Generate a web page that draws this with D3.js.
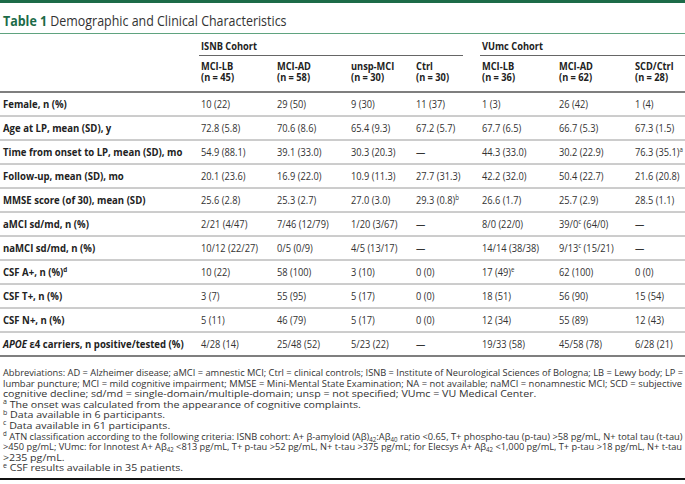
<!DOCTYPE html>
<html><head><meta charset="utf-8">
<script src="https://cdn.jsdelivr.net/npm/d3@7"></script>
<style>body{margin:0;background:#fff} svg{display:block} text{font-family:"Open Sans",sans-serif}</style>
</head><body><svg id="c" width="685" height="484"></svg>
<script>
const titleLabel = "Table 1";
const titleText = "Demographic and Clinical Characteristics";
const cohorts = ["ISNB Cohort", "VUmc Cohort"];
const groups = ["MCI-LB","MCI-AD","unsp-MCI","Ctrl","MCI-LB","MCI-AD","SCD/Ctrl"];
const groupN = ["(n = 45)","(n = 58)","(n = 30)","(n = 30)","(n = 36)","(n = 62)","(n = 28)"];
const groupCohort = [0,0,0,0,1,1,1];
const rowLabels = ["Female, n (%)","Age at LP, mean (SD), y","Time from onset to LP, mean (SD), mo","Follow-up, mean (SD), mo","MMSE score (of 30), mean (SD)","aMCI sd/md, n (%)","naMCI sd/md, n (%)","CSF A+, n (%)^d","CSF T+, n (%)","CSF N+, n (%)","*APOE* ε4 carriers, n positive/tested (%)"];
const isnbMciLb = ["10 (22)","72.8 (5.8)","54.9 (88.1)","20.1 (23.6)","25.6 (2.8)","2/21 (4/47)","10/12 (22/27)","10 (22)","3 (7)","5 (11)","4/28 (14)"];
const isnbMciAd = ["29 (50)","70.6 (8.6)","39.1 (33.0)","16.9 (22.0)","25.3 (2.7)","7/46 (12/79)","0/5 (0/9)","58 (100)","55 (95)","46 (79)","25/48 (52)"];
const isnbUnsp = ["9 (30)","65.4 (9.3)","30.3 (20.3)","10.9 (11.3)","27.0 (3.0)","1/20 (3/67)","4/5 (13/17)","3 (10)","5 (17)","5 (17)","5/23 (22)"];
const isnbCtrl = ["11 (37)","67.2 (5.7)","—","27.7 (31.3)","29.3 (0.8)^b","—","—","0 (0)","0 (0)","0 (0)","—"];
const vumcMciLb = ["1 (3)","67.7 (6.5)","44.3 (33.0)","42.2 (32.0)","26.6 (1.7)","8/0 (22/0)","14/14 (38/38)","17 (49)^e","18 (51)","12 (34)","19/33 (58)"];
const vumcMciAd = ["26 (42)","66.7 (5.3)","30.2 (22.9)","50.4 (22.7)","25.7 (2.9)","39/0^c (64/0)","9/13^c (15/21)","62 (100)","56 (90)","55 (89)","45/58 (78)"];
const vumcScd = ["1 (4)","67.3 (1.5)","76.3 (35.1)^a","21.6 (20.8)","28.5 (1.1)","—","—","0 (0)","15 (54)","12 (43)","6/28 (21)"];
const footnotes = [
 "Abbreviations: AD = Alzheimer disease; aMCI = amnestic MCI; Ctrl = clinical controls; ISNB = Institute of Neurological Sciences of Bologna; LB = Lewy body; LP =",
 "lumbar puncture; MCI = mild cognitive impairment; MMSE = Mini-Mental State Examination; NA = not available; naMCI = nonamnestic MCI; SCD = subjective",
 "cognitive decline; sd/md = single-domain/multiple-domain; unsp = not specified; VUmc = VU Medical Center.",
 "^a The onset was calculated from the appearance of cognitive complaints.",
 "^b Data available in 6 participants.",
 "^c Data available in 61 participants.",
 "^d ATN classification according to the following criteria: ISNB cohort: A+ β-amyloid (Aβ)_42:Aβ_40 ratio <0.65, T+ phospho-tau (p-tau) >58 pg/mL, N+ total tau (t-tau)",
 ">450 pg/mL; VUmc: for Innotest A+ Aβ_42 <813 pg/mL, T+ p-tau >52 pg/mL, N+ t-tau >375 pg/mL; for Elecsys A+ Aβ_42 <1,000 pg/mL, T+ p-tau >18 pg/mL, N+ t-tau",
 ">235 pg/mL.",
 "^e CSF results available in 35 patients."
];
const justified = [true,true,false,false,false,false,true,true,false,false];

const columns = [isnbMciLb, isnbMciAd, isnbUnsp, isnbCtrl, vumcMciLb, vumcMciAd, vumcScd];

const W = 685, H = 484;
const svg = d3.select("#c");
const green = "#1c6b48";

function parse(s){
  const parts = s.split(/(\^[a-e]|_\d+|\*[^*]+\*)/).filter(p => p !== "");
  return parts.map(p => {
    if (p[0] === "^") return {t: p.slice(1), k: "sup"};
    if (p[0] === "_") return {t: p.slice(1), k: "sub"};
    if (p[0] === "*") return {t: p.slice(1, -1), k: "it"};
    return {t: p, k: ""};
  });
}
function rich(sel, s, size){
  const segs = parse(s);
  let shift = 0;
  segs.forEach(sg => {
    const ts = sel.append("tspan").text(sg.t);
    let target = 0;
    if (sg.k === "sup") { target = -size*0.38; ts.attr("font-size", size*0.66); }
    if (sg.k === "sub") { target = size*0.2; ts.attr("font-size", size*0.66); }
    if (sg.k === "it") ts.attr("font-style", "italic");
    if (target !== shift) { ts.attr("dy", target - shift); shift = target; }
  });
}

// top bar
svg.append("rect").attr("x",0).attr("y",0).attr("width",W).attr("height",3).attr("fill",green);
// title
const tg = svg.append("g").attr("transform","translate(3,26)");
const tt = tg.append("text").attr("font-size",15).attr("fill","#333");
tt.append("tspan").attr("font-weight",700).attr("fill",green).text(titleLabel);
tt.append("tspan").text(" " + titleText);
const tw = tt.node().getComputedTextLength();
tg.attr("transform", `translate(3,26) scale(${284/tw},1)`);
svg.append("line").attr("x1",0).attr("x2",W).attr("y1",33.5).attr("y2",33.5).attr("stroke","#5fa37f").attr("stroke-width",1);

// scales
const x = d3.scaleOrdinal().domain(d3.range(7)).range([201,277,351,416,482,559,635]);
const y = d3.scaleBand().domain(d3.range(rowLabels.length)).range([92,356]);
const labelX = 3;
const FS = 10.3;
const condBody = 0.9, condBold = 0.9;

function condText(parent, tx, ty, str, size, weight, fill, factor){
  const g = parent.append("g").attr("transform", `translate(${tx},${ty}) scale(${factor},1)`);
  const t = g.append("text").attr("font-size", size).attr("font-weight", weight).attr("fill", fill);
  rich(t, str, size);
  return t;
}

// cohort headers
cohorts.forEach((c, ci) => {
  const idx = d3.range(7).filter(i => groupCohort[i] === ci);
  const x0 = x(idx[0]) - 2;
  const x1 = ci === 0 ? x(idx[idx.length-1]) + 47 : W;
  condText(svg, x(idx[0]), 50, c, FS, 700, "#222", condBold);
  svg.append("line").attr("x1",x0).attr("x2",x1).attr("y1",55.5).attr("y2",55.5).attr("stroke","#666").attr("stroke-width",1.2);
});
groups.forEach((g, i) => {
  condText(svg, x(i), 70, g, FS, 700, "#222", condBold);
  condText(svg, x(i), 81, groupN[i], FS, 700, "#222", condBold);
});
svg.append("line").attr("x1",0).attr("x2",W).attr("y1",y.range()[0]).attr("y2",y.range()[0]).attr("stroke","#555").attr("stroke-width",1.5);

// rows
rowLabels.forEach((lab, r) => {
  const cy = y(r) + y.bandwidth()/2 + 3.7;
  condText(svg, labelX, cy, lab, FS, 700, "#222", 0.93);
  columns.forEach((col, c) => {
    condText(svg, x(c), cy, col[r], FS, 400, "#333", condBody);
  });
  const ly = y(r) + y.bandwidth();
  const last = r === rowLabels.length - 1;
  svg.append("line").attr("x1",0).attr("x2",W).attr("y1",ly).attr("y2",ly)
    .attr("stroke", last ? "#555" : "#9a9a9a").attr("stroke-width", last ? 1.5 : 1);
});

// footnotes
const fy0 = 376, fstep = 10.6, FFS = 9.6;
const fnNodes = footnotes.map((f, i) => {
  const g = svg.append("g");
  const t = g.append("text").attr("font-size", FFS).attr("fill", "#333");
  rich(t, f, FFS);
  return {g, w: t.node().getComputedTextLength()};
});
const njFactor = 534 / fnNodes[2].w;
fnNodes.forEach((n, i) => {
  const factor = justified[i] ? 680 / n.w : njFactor;
  n.g.attr("transform", `translate(3,${fy0 + i*fstep}) scale(${factor},1)`);
});
svg.append("line").attr("x1",0).attr("x2",W).attr("y1",479).attr("y2",479).attr("stroke","#111").attr("stroke-width",2);
</script></body></html>
